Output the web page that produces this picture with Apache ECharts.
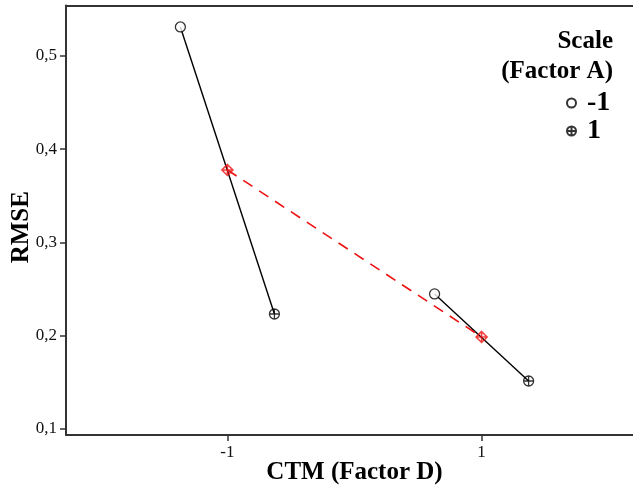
<!DOCTYPE html>
<html>
<head>
<meta charset="utf-8">
<script src="https://cdn.jsdelivr.net/npm/echarts@6/dist/echarts.min.js"></script>
<style>html,body{margin:0;padding:0;background:#fff;}#c{width:633px;height:491px;}</style>
</head>
<body>
<div id="c"></div>
<script>
// ---- data ----
var ctmLevels = [-1, 1];              // CTM (Factor D)
var scaleLevels = ['-1', '1'];        // Scale (Factor A)
var rmseScaleNeg = [0.531, 0.2448];   // Scale = -1
var rmseScalePos = [0.2233, 0.1515];  // Scale = 1
var rmseMean = [0.3777, 0.1987];      // mean over Scale
var yTicks = [0.1, 0.2, 0.3, 0.4, 0.5];
var xTicks = [-1, 1];

// ---- layout ----
var DODGE = 0.37;
var FONT = 'Liberation Serif';
var circleSym = 'path://M0,-5A5,5 0 1,1 0,5A5,5 0 1,1 0,-5Z';
var crossCircleSym = 'path://M0,-5A5,5 0 1,1 0,5A5,5 0 1,1 0,-5Z M-5,0L5,0 M0,-5L0,5';
var crossDiamondSym = 'path://M0,-5L5,0L0,5L-5,0Z M-5,0L5,0 M0,-5L0,5';

var negPts = ctmLevels.map(function (x, i) { return [x - DODGE, rmseScaleNeg[i]]; });
var posPts = ctmLevels.map(function (x, i) { return [x + DODGE, rmseScalePos[i]]; });
var meanPts = ctmLevels.map(function (x, i) { return [x, rmseMean[i]]; });

var series = [];
ctmLevels.forEach(function (x, i) {
  series.push({
    type: 'line', silent: true, symbol: 'none',
    data: [negPts[i], posPts[i]],
    lineStyle: { color: '#000', width: 1.4 }, z: 2
  });
});
series.push({
  type: 'line', silent: true, symbol: 'none', data: meanPts,
  lineStyle: { color: '#ee1111', width: 1.6, type: [11, 8] }, z: 2
});
series.push({
  name: scaleLevels[0], type: 'scatter', data: negPts,
  symbol: circleSym, symbolSize: 10,
  itemStyle: { color: '#fff', borderColor: '#000', borderWidth: 1.3 }, z: 5
});
series.push({
  name: scaleLevels[1], type: 'scatter', data: posPts,
  symbol: crossCircleSym, symbolSize: 10,
  itemStyle: { color: 'rgba(0,0,0,0)', borderColor: '#000', borderWidth: 1.3 }, z: 5
});
series.push({
  type: 'scatter', silent: true, data: meanPts,
  symbol: crossDiamondSym, symbolSize: 11,
  itemStyle: { color: 'rgba(0,0,0,0)', borderColor: '#ee1111', borderWidth: 1.6 }, z: 6
});

var chart = echarts.init(document.getElementById('c'), null, { renderer: 'canvas' });
chart.setOption({
  animation: false,
  backgroundColor: '#fff',
  grid: { left: 66, top: 5.5, width: 577, bottom: 56, containLabel: false, outerBoundsMode: 'none', show: false },
  xAxis: [{
    type: 'value', min: -2.27, max: 2.27,
    name: 'CTM (Factor D)', nameLocation: 'middle', nameGap: 25, nameMoveOverlap: false,
    nameTextStyle: { fontFamily: FONT, fontWeight: 'bold', fontSize: 25, color: '#000' },
    axisLine: { onZero: false, lineStyle: { color: '#333', width: 2 } },
    axisTick: { show: true, length: 6, lineStyle: { color: '#333', width: 1.5 },
      customValues: xTicks },
    axisLabel: { fontFamily: FONT, fontSize: 17, color: '#111', margin: 9,
      customValues: xTicks, formatter: function (v) { return String(v); } },
    splitLine: { show: false }
  }, {
    type: 'value', min: -2.27, max: 2.27, position: 'top',
    axisLine: { show: true, onZero: false, lineStyle: { color: '#333', width: 2 } },
    axisTick: { show: false }, axisLabel: { show: false }, splitLine: { show: false }
  }],
  yAxis: {
    type: 'value', min: 0.0936, max: 0.554,
    name: 'RMSE', nameLocation: 'middle', nameGap: 32, nameRotate: 90, nameMoveOverlap: false,
    nameTextStyle: { fontFamily: FONT, fontWeight: 'bold', fontSize: 25, color: '#000', padding: [0, 0, 0, -14] },
    axisLine: { show: true, onZero: false, lineStyle: { color: '#333', width: 2 } },
    axisTick: { show: true, length: 6, lineStyle: { color: '#333', width: 1.5 },
      customValues: yTicks },
    axisLabel: { fontFamily: FONT, fontSize: 17, color: '#111', margin: 9,
      customValues: yTicks,
      formatter: function (v) { return v.toFixed(1).replace('.', ','); } },
    splitLine: { show: false }
  },
  legend: {
    data: scaleLevels.slice(), orient: 'vertical',
    left: 561, top: 84, itemGap: 0, itemWidth: 9, itemHeight: 9,
    textStyle: { fontFamily: FONT, fontWeight: 'bold', fontSize: 28, color: '#000', padding: [0, 0, 0, 6] }
  },
  graphic: [
    { type: 'text', right: 20, top: 29, style: { text: 'Scale', fontFamily: FONT, fontWeight: 'bold', fontSize: 25, fill: '#000' } },
    { type: 'text', right: 20, top: 59, style: { text: '(Factor A)', fontFamily: FONT, fontWeight: 'bold', fontSize: 25, fill: '#000' } }
  ],
  series: series
});
</script>
</body>
</html>
